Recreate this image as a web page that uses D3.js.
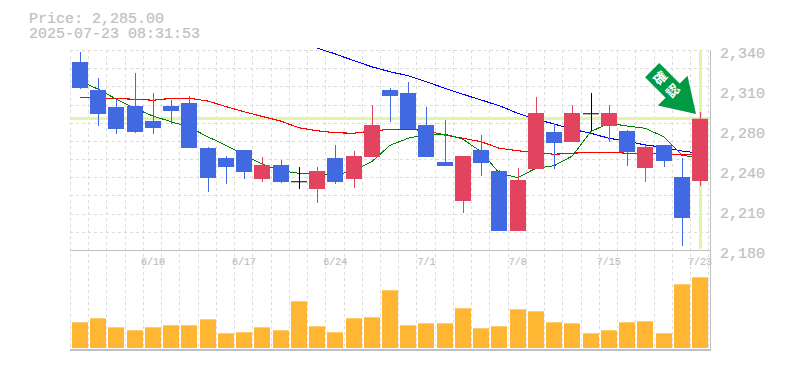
<!DOCTYPE html>
<html>
<head>
<meta charset="utf-8">
<style>
  body { margin: 0; background: #fff; }
  svg { display: block; }
  text { font-family: "Liberation Mono", monospace; fill: #c0c0c0; stroke: #c0c0c0; stroke-width: 0.2px; }
</style>
<script src="https://d3js.org/d3.v7.min.js"></script>
</head>
<body>
<svg width="785" height="370"></svg>
<script>
const dates = ["6/4","6/5","6/6","6/9","6/10","6/11","6/12","6/13","6/16","6/17","6/18","6/19","6/20","6/23","6/24","6/25","6/26","6/27","6/30","7/1","7/2","7/3","7/4","7/7","7/8","7/9","7/10","7/11","7/14","7/15","7/16","7/17","7/18","7/22","7/23"];
const dateLabels = ["6/10","6/17","6/24","7/1","7/8","7/15","7/23"];
const priceTicks = [2340, 2308, 2276, 2244, 2212, 2180];
const priceLabels = ["2,340","2,310","2,280","2,240","2,210","2,180"];

const open = [2330.4,2308,2294.4,2295.2,2283.2,2295.2,2297.6,2261.6,2253.6,2260,2236.8,2248,2235,2228.8,2253.6,2236.8,2254.4,2308,2305.6,2280,2250.4,2219.2,2260,2243.2,2195.2,2244.8,2274.4,2266.4,2289.4,2279.2,2275.2,2245.6,2264,2238.4,2235.2];
const high = [2338.4,2317.6,2300,2321.6,2305.6,2300,2303.2,2262.4,2255.2,2260,2254.4,2252,2246.4,2246.4,2264,2259.2,2296,2309.6,2314.4,2294.4,2284,2255.2,2272,2244,2245.6,2302.4,2280.8,2296,2305.6,2296,2276,2264,2264,2253.6,2290.4];
const low = [2308.8,2279.2,2272.8,2273.6,2272.8,2280.8,2261.6,2226.4,2232.8,2236.8,2234.4,2233.6,2228.8,2217.6,2232.8,2229.6,2254.4,2282.4,2276.8,2254.4,2247.2,2209.6,2239.2,2195.2,2195.2,2244.8,2244.8,2266.4,2275.2,2266.4,2247.2,2234.4,2246.4,2183.2,2231.2];
const close = [2309.6,2288.8,2276.8,2274.4,2277.6,2291.2,2261.6,2237.6,2246.4,2242.4,2248,2234.4,2235,2243.2,2234.4,2255.2,2280,2303.2,2276.8,2254.4,2247.2,2255.2,2249.6,2195.2,2236,2289.6,2265.6,2289.6,2289.4,2289.6,2258.4,2262.4,2251.2,2205.6,2285];

const maShort = [2315.2,2308.6,2300.6,2293.4,2287.2,2282.6,2278.2,2270.6,2263.8,2256,2248.6,2243.4,2241.4,2241.4,2240,2243.2,2250.6,2263.8,2269.4,2272.8,2272.8,2268.6,2258.6,2241.4,2237.8,2245.4,2247.4,2255.2,2274.6,2281.4,2279.2,2277.4,2270.6,2256,2253.4];
const maMid = [2302,2301.6,2301.2,2300.6,2299.8,2301.3,2301.4,2299.2,2294.8,2290.6,2286.8,2283.2,2277.8,2275.4,2273.8,2273.4,2275.2,2276.6,2276.6,2275.4,2272,2269.4,2266.6,2261.4,2259.4,2258.2,2256.6,2257.4,2258.2,2258.2,2257.4,2257.4,2256.8,2256,2256.8];
const maLong = [null,null,null,null,null,null,null,null,null,null,null,null,null,2341.6,2336.8,2331.6,2326.6,2322.6,2319.4,2314.6,2309.4,2304.6,2300,2295.4,2289.4,2284.6,2280.8,2276.6,2273.4,2269.4,2267.2,2264,2262.2,2259.2,2257.4];

const volume = [257,297,207,177,207,227,227,287,147,157,207,177,467,217,157,297,307,577,227,247,247,397,197,217,387,367,257,247,147,177,257,267,147,637,707];

const lastPrice = 2285;

var svg = d3.select("svg");
var x = d3.scaleLinear().domain([0, dates.length - 1]).range([80, 700]);
var y = d3.scaleLinear().domain([2180, 2340]).range([250, 50]);
var v = d3.scaleLinear().domain([0, 1000]).range([348, 248]);

// grid
var gridColor = "#dcdcdc";
svg.append("g").selectAll("line").data(d3.range(12)).join("line")
  .attr("x1", 70).attr("x2", 710)
  .attr("y1", d => Math.round(y(2340 - d * 160 / 11)) + 0.5)
  .attr("y2", d => Math.round(y(2340 - d * 160 / 11)) + 0.5)
  .attr("stroke", gridColor).attr("stroke-dasharray", "3,3");
svg.append("g").selectAll("line").data(d3.range(36)).join("line")
  .attr("x1", d => Math.round(x(d) - 10) + 0.5)
  .attr("x2", d => Math.round(x(d) - 10) + 0.5)
  .attr("y1", 50).attr("y2", 350)
  .attr("stroke", gridColor).attr("stroke-dasharray", "3,3");

// highlight of last price and last day
svg.append("line").attr("x1", 70).attr("x2", 710)
  .attr("y1", Math.floor(y(lastPrice)) + 0.5).attr("y2", Math.floor(y(lastPrice)) + 0.5)
  .attr("stroke", "#e0f5a5").attr("stroke-width", 3);
svg.append("line").attr("x1", x(34) + 0.5).attr("x2", x(34) + 0.5)
  .attr("y1", 50).attr("y2", 249)
  .attr("stroke", "#e0f5a5").attr("stroke-width", 3);

// frame
svg.append("line").attr("x1", 70).attr("x2", 711).attr("y1", 250.5).attr("y2", 250.5).attr("stroke", "#c0c0c0");
svg.append("line").attr("x1", 70).attr("x2", 711).attr("y1", 350).attr("y2", 350).attr("stroke", "#c0c0c0").attr("stroke-width", 2);
svg.append("line").attr("x1", 710.5).attr("x2", 710.5).attr("y1", 50).attr("y2", 351).attr("stroke", "#c0c0c0");

// volume
svg.append("g").selectAll("rect").data(volume).join("rect")
  .attr("x", (d, i) => Math.round(x(i)) - 8)
  .attr("width", 16)
  .attr("y", d => v(d))
  .attr("height", d => v(0) - v(d))
  .attr("fill", "#ffb733");

// moving averages
var line = d3.line()
  .defined(d => d != null)
  .x((d, i) => x(i))
  .y(d => y(d));
[[maLong, "#0000ff", 1.1], [maMid, "#ff0000", 1.1], [maShort, "#008000", 1]].forEach(function(s) {
  svg.append("path").datum(s[0])
    .attr("fill", "none")
    .attr("stroke", s[1])
    .attr("stroke-width", s[2])
    .attr("shape-rendering", "crispEdges")
    .attr("d", line);
});

// candles
var candleColor = function(i) {
  if (close[i] > open[i]) return "#e2445f";
  if (close[i] < open[i]) return "#4169e1";
  return "#000";
};
var candles = svg.append("g").selectAll("g").data(dates).join("g");
candles.append("line")
  .attr("x1", (d, i) => Math.round(x(i)) + 0.5)
  .attr("x2", (d, i) => Math.round(x(i)) + 0.5)
  .attr("y1", (d, i) => y(high[i]))
  .attr("y2", (d, i) => y(low[i]))
  .attr("stroke", (d, i) => candleColor(i));
candles.append("rect")
  .attr("x", (d, i) => Math.round(x(i)) - 8)
  .attr("width", 16)
  .attr("y", (d, i) => y(Math.max(open[i], close[i])))
  .attr("height", (d, i) => Math.max(1, Math.abs(y(open[i]) - y(close[i]))))
  .attr("fill", (d, i) => candleColor(i));

// arrow marker
var arrow = svg.append("g").attr("transform", "translate(696,114) rotate(-45)");
arrow.append("path")
  .attr("d", "M0,0 L-21,-33 L-10,-33 L-10,-62 L10,-62 L10,-33 L21,-33 Z")
  .attr("fill", "#009944");
["確", "認"].forEach(function(c, i) {
  arrow.append("text")
    .attr("x", 0)
    .attr("y", -46 + i * 18)
    .attr("text-anchor", "middle")
    .style("font-family", "Noto Sans CJK JP")
    .style("font-size", "13px")
    .style("font-weight", "bold")
    .style("fill", "#fff")
    .style("stroke", "none")
    .text(c);
});

// text
svg.append("text").attr("x", 29).attr("y", 23).style("font-size", "15px").text("Price: 2,285.00");
svg.append("text").attr("x", 29).attr("y", 38).style("font-size", "15px").text("2025-07-23 08:31:53");

svg.append("g").selectAll("text").data(priceTicks).join("text")
  .attr("x", 720)
  .attr("y", d => y(d) + 8)
  .style("font-size", "15px")
  .text((d, i) => priceLabels[i]);

svg.append("g").selectAll("text").data(dateLabels).join("text")
  .attr("x", d => x(dates.indexOf(d)))
  .attr("y", 265)
  .attr("text-anchor", "middle")
  .style("font-size", "10px")
  .text(d => d);
</script>
</body>
</html>
